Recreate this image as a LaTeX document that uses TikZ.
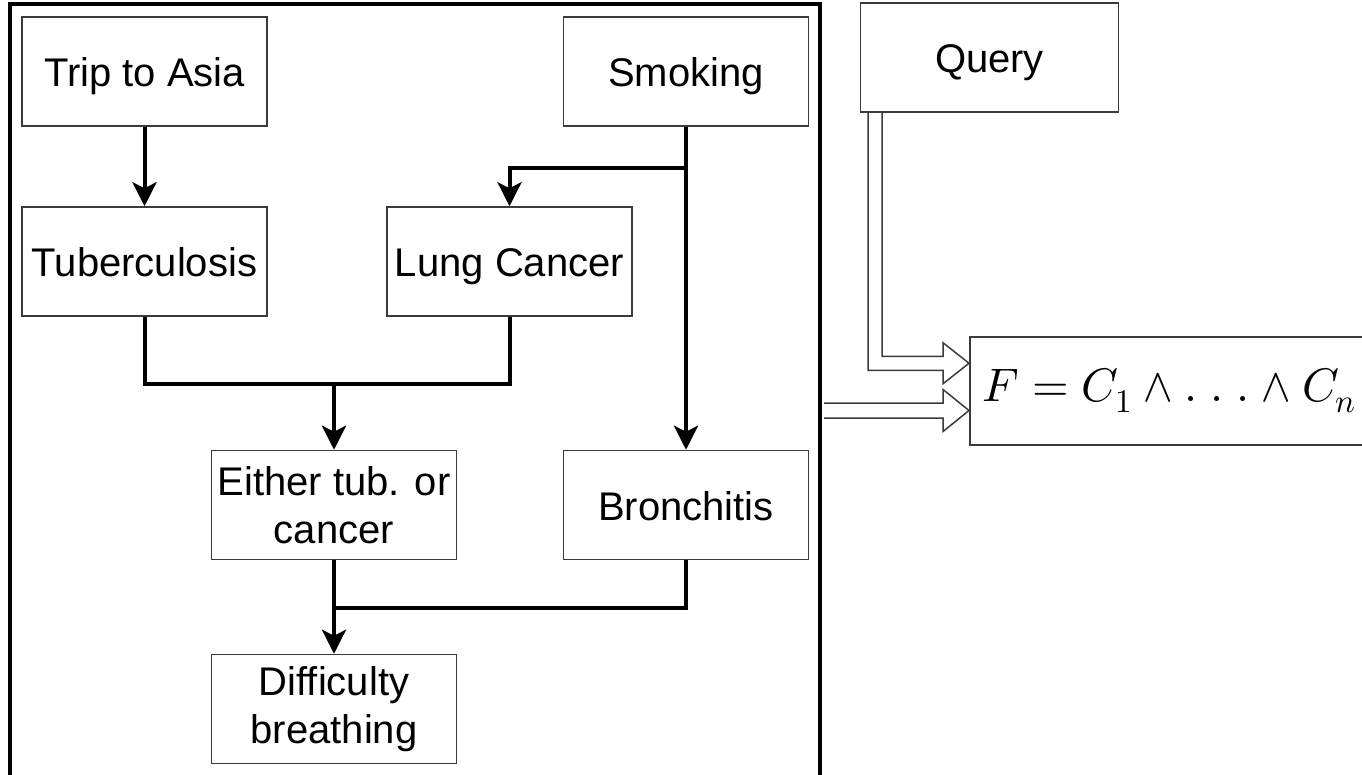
\documentclass[tikz,border=0pt]{standalone}
\usepackage{fontspec}
\usepackage{unicode-math}
\setmainfont{Liberation Sans}
\setmathfont{latinmodern-math.otf}
\usetikzlibrary{arrows.meta,calc}

\definecolor{boxline}{HTML}{3A3A3A}

\begin{document}
\begin{tikzpicture}[x=1pt,y=-1pt,
  box/.style={draw=boxline, line width=1.5pt, fill=white,
    minimum width=245pt, minimum height=109pt, inner sep=2pt,
    align=center, font=\fontsize{40}{48}\selectfont},
  oneline/.style={text height=30pt, text depth=0pt},
  formbox/.style={draw=boxline, line width=1.5pt, minimum height=108pt,
    text width=400pt, inner xsep=13pt, align=left,
    font=\fontsize{47}{56}\selectfont},
  netframe/.style={draw=black, line width=4pt, inner sep=0pt,
    minimum width=810pt, minimum height=773pt},
  link/.style={line width=4pt, black, line join=miter},
  linkarrow/.style={link, -{Stealth[length=24pt,width=24pt,inset=6pt]}},
  fatarrow/.style={draw=boxline, line width=1.5pt, line join=miter}
]
\useasboundingbox (0,0) rectangle (1362,774);

% network frame
\node[netframe] (net) at (415,390.5) {};

% network nodes
\node[box, oneline] (trip)   at (144.5,71.5)  {Trip to Asia};
\node[box, oneline] (smoke)  at (686,71.5)    {Smoking};
\node[box, oneline] (tb)     at (144.5,261.5) {Tuberculosis};
\node[box, oneline] (lc)     at (509.5,261.5) {Lung Cancer};
\node[box] (either) at (334,505)     {Either tub. or\\cancer};
\node[box, oneline] (bron)   at (686,505)     {Bronchitis};
\node[box] (diff)   at (334,709)     {Difficulty\\breathing};

% query and formula
\node[box, oneline, minimum width=258pt] (query) at (989.5,57.5) {Query};
\node[formbox, anchor=north west] (formula) at (969,336)
  {$F = C_1 \wedge .\;.\;. \wedge C_n$};

% network edges
\draw[linkarrow] (trip.south) -- (tb.north);
\draw[linkarrow] (smoke.south) -- (bron.north);
\coordinate (jsm) at ($(smoke.south)+(0,41)$);
\draw[linkarrow] (jsm) -| (lc.north);
\coordinate (jtl) at ($(tb.south)+(0,67)$);
\draw[link] (tb.south) -- (jtl) -| (lc.south);
\draw[linkarrow] (either.north |- jtl) -- (either.north);
\draw[linkarrow] (either.south) -- (diff.north);
\coordinate (jbr) at ($(bron.south)+(0,48)$);
\draw[link] (bron.south) -- (jbr) -- (either.south |- jbr);

% query -> formula
\coordinate (qs) at ([xshift=-114.5pt]query.south);
\coordinate (qk) at ($(qs)+(0,250.5)$);
\coordinate (qt) at (formula.west |- qk);
\draw[fatarrow] ($(qs)+(-7,0)$) -- ($(qk)+(-7,7)$) -- ($(qt)+(-26,7)$)
  -- ($(qt)+(-26,20.5)$) -- (qt) -- ($(qt)+(-26,-20.5)$)
  -- ($(qt)+(-26,-7)$) -- ($(qk)+(7,-7)$) -- ($(qs)+(7,0)$);

% network -> formula
\coordinate (fs) at ($(net.east)+(0,20)$);
\coordinate (ft) at (formula.west |- fs);
\draw[fatarrow] ($(fs)+(2,-7.5)$) -- ($(ft)+(-26,-7.5)$) -- ($(ft)+(-26,-21)$)
  -- (ft) -- ($(ft)+(-26,21)$) -- ($(ft)+(-26,7.5)$) -- ($(fs)+(2,7.5)$);
\end{tikzpicture}
\end{document}
